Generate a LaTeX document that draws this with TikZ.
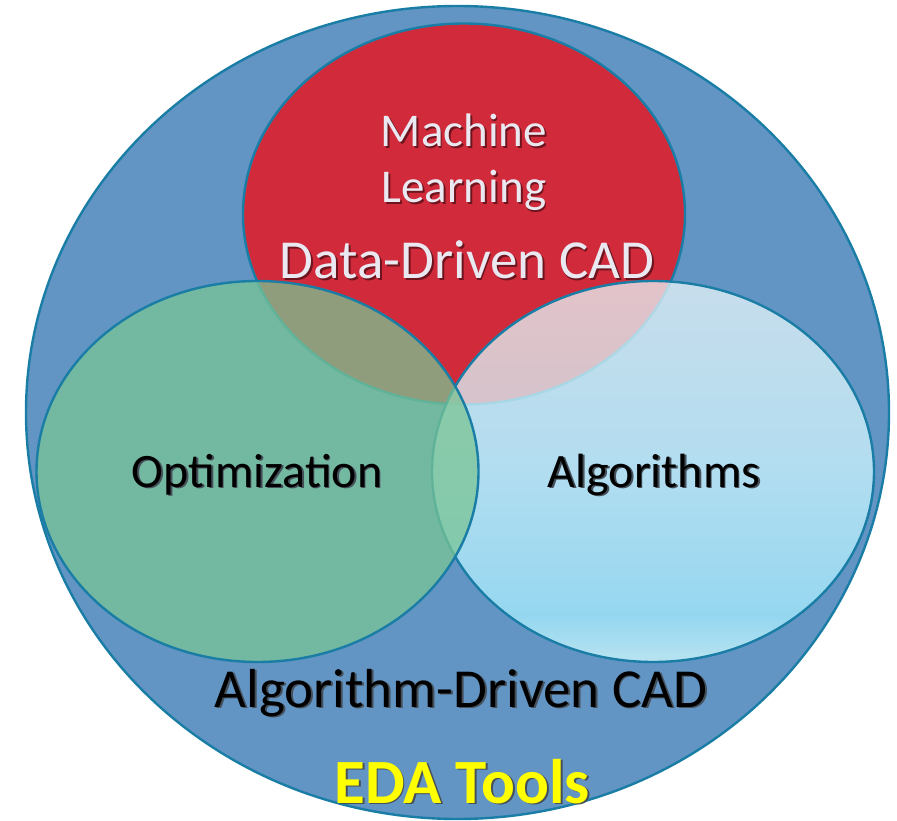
\documentclass[tikz,border=0pt]{standalone}
\usepackage{fontspec}
\setmainfont{Carlito}
\definecolor{edablue}{RGB}{98,149,196}
\definecolor{rimblue}{RGB}{25,125,165}
\definecolor{mlred}{RGB}{209,43,59}
\definecolor{optgreen}{RGB}{121,196,148}
\definecolor{lbtop}{RGB}{234,246,249}
\definecolor{lbmid}{RGB}{205,246,255}
\definecolor{lblow}{RGB}{167,238,255}
\definecolor{lbbot}{RGB}{214,254,255}
\definecolor{mltext}{RGB}{234,232,240}
\definecolor{redshadow}{RGB}{110,20,30}
\definecolor{darkshadow}{RGB}{70,80,90}
\definecolor{edayellow}{RGB}{255,255,0}
\pgfdeclareverticalshading{algshade}{100bp}{color(0bp)=(lbbot); color(25bp)=(lbbot); color(31bp)=(lblow); color(50bp)=(lbmid); color(75bp)=(lbtop); color(100bp)=(lbtop)}
% text with a small drop shadow
\newcommand\shadowed[2]{\makebox[0pt][l]{\kern1.8pt\raisebox{-1.8pt}{\textcolor{#1}{#2}}}#2}
\begin{document}
\begin{tikzpicture}[x=1pt,y=-1pt, line join=round, line cap=round,
	rim/.style={draw=rimblue, line width=2.4pt},
	label/.style={anchor=base, inner sep=0pt}]
	\useasboundingbox (0,0) rectangle (897,821);
	\def\rx{221} \def\ry{190.5} % Venn ellipses
	% outer set
	\filldraw[rim, fill=edablue] (457.5,412.5) ellipse [x radius=431.5, y radius=406.5];
	% inner sets
	\filldraw[rim, fill=mlred] (464,214) ellipse [x radius=\rx, y radius=\ry];
	\shade[shading=algshade, fill opacity=0.75] (653,471.5) ellipse [x radius=\rx, y radius=\ry];
	\draw[rim] (653,471.5) ellipse [x radius=\rx, y radius=\ry];
	\filldraw[rim, fill=optgreen, fill opacity=0.75] (257.5,471.5) ellipse [x radius=\rx, y radius=\ry];
	% labels
	\node[label, align=center, text=mltext, font=\fontsize{47}{56}\selectfont] (ml) at (464,203)
		{\shadowed{redshadow}{Machine}\\\shadowed{redshadow}{Learning}};
	\node[label, text=mltext, font=\fontsize{55}{60}\selectfont] (ddcad) at (467,279)
		{\shadowed{redshadow}{Data-Driven CAD}};
	\node[label, font=\fontsize{48}{56}\selectfont] (opt) at (257,487)
		{\shadowed{darkshadow}{Optimization}};
	\node[label, font=\fontsize{48}{56}\selectfont] (alg) at (654,487)
		{\shadowed{darkshadow}{Algorithms}};
	\node[label, font=\fontsize{55}{60}\selectfont] (adcad) at (461,707)
		{\shadowed{darkshadow}{Algorithm-Driven CAD}};
	\node[label, text=edayellow, font=\fontsize{63}{70}\selectfont\bfseries] (eda) at (462,803)
		{\shadowed{darkshadow}{EDA Tools}};
\end{tikzpicture}
\end{document}
